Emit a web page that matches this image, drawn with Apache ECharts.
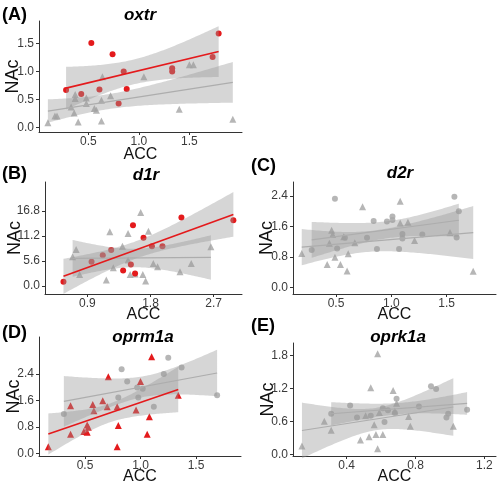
<!DOCTYPE html>
<html><head><meta charset="utf-8">
<script src="https://cdn.jsdelivr.net/npm/echarts@6/dist/echarts.min.js"></script>
<style>html,body{margin:0;padding:0;background:#fff}#c{width:500px;height:487px}</style>
</head><body><div id="c"></div>
<script>
// ---------------- DATA ----------------
// Panel A: oxtr
const A_red_x  = [0.28,0.43,0.53,0.61,0.74,0.80,0.85,0.88,1.33,1.33,1.73,1.79];
const A_red_y  = [0.67,0.60,1.51,0.68,1.31,0.43,1.00,0.69,1.06,1.00,1.26,1.68];
const A_gray_x = [0.10,0.17,0.19,0.33,0.37,0.37,0.36,0.40,0.48,0.48,0.56,0.58,0.63,0.63,0.64,0.72,1.05,1.40,1.50,1.54,1.93];
const A_gray_y = [0.09,0.21,0.21,0.37,0.59,0.52,0.26,0.10,0.53,0.43,0.34,0.31,0.49,0.12,0.91,0.57,0.91,0.33,1.12,1.12,0.15];
// Panel B: d1r
const B_red_x  = [0.56,0.96,1.12,1.24,1.41,1.52,1.55,1.58,1.70,1.82,1.97,2.24,2.98];
const B_red_y  = [0.97,5.43,6.91,8.03,3.49,4.83,13.6,2.83,10.78,8.92,8.92,15.32,14.72];
const B_gray_x = [0.69,0.74,0.79,1.17,1.22,1.27,1.40,1.48,1.48,1.51,1.58,1.66,1.69,1.73,1.77,1.84,1.90,2.22,2.38,2.66];
const B_gray_y = [6.54,8.18,2.60,1.34,12.12,4.09,8.92,11.75,5.80,2.60,2.68,16.43,2.60,1.12,12.27,5.06,4.31,3.20,5.06,8.77];
// Panel C: d2r (both groups grey)
const C_circ_x = [0.28,0.49,0.51,0.58,0.78,0.84,0.87,0.96,1.01,1.01,1.07,1.10,1.10,1.28,1.57,1.59,1.61];
const C_circ_y = [0.98,2.33,1.02,1.30,1.30,1.74,1.01,1.73,1.86,1.77,1.01,1.40,1.28,1.39,2.38,1.31,2.00];
const C_tri_x  = [0.19,0.42,0.44,0.46,0.47,0.49,0.54,0.57,0.60,0.61,0.67,0.74,1.08,1.08,1.15,1.21,1.53,1.74];
const C_tri_y  = [0.89,0.60,1.16,1.50,1.39,0.79,0.60,1.33,0.43,0.88,1.17,2.12,2.26,1.69,1.71,1.23,1.44,0.42];
// Panel D: oprm1a (red triangles, grey circles)
const D_red_x  = [0.17,0.37,0.37,0.49,0.52,0.52,0.53,0.57,0.58,0.66,0.70,0.71,0.79,0.80,0.79,0.96,1.00,1.06,1.08,1.10,1.34];
const D_red_y  = [0.20,1.44,0.58,0.66,0.64,0.86,0.79,1.48,1.29,1.59,1.41,2.32,1.41,0.84,0.20,1.31,2.17,0.58,1.11,2.92,1.76];
const D_gray_x = [0.31,0.80,0.83,0.88,0.97,0.98,1.02,1.12,1.21,1.25,1.37,1.69];
const D_gray_y = [1.19,1.69,2.54,2.17,1.99,1.69,1.95,1.41,2.40,2.89,2.60,1.76];
// Panel E: oprk1a (both groups grey)
const E_tri_x  = [0.14,0.27,0.31,0.48,0.53,0.54,0.56,0.57,0.58,0.58,0.61,0.51,0.59,0.67,0.68,0.69,0.76,0.77,1.02];
const E_tri_y  = [0.15,0.60,0.44,0.26,0.32,1.21,0.54,0.36,1.83,0.10,0.36,0.70,0.76,1.16,0.79,0.93,0.69,0.51,0.51];
const E_circ_x = [0.31,0.42,0.46,0.54,0.61,0.64,0.62,0.69,0.68,0.82,0.89,0.92,0.99,0.98,1.10];
const E_circ_y = [0.74,0.89,0.67,0.70,0.84,0.80,0.59,1.01,0.75,0.87,1.24,1.19,0.74,0.67,0.81];

// Tick labels
const A_xticks = [0.5,1.0,1.5],  A_yticks = [0.0,0.5,1.0,1.5];
const B_xticks = [0.9,1.8,2.7],  B_yticks = [0.0,5.6,11.2,16.8];
const C_xticks = [0.5,1.0,1.5],  C_yticks = [0.0,0.8,1.6,2.4];
const D_xticks = [0.5,1.0,1.5],  D_yticks = [0.0,0.8,1.6,2.4];
const E_xticks = [0.4,0.8,1.2],  E_yticks = [0.0,0.6,1.2,1.8];
const genes = ['oxtr','d1r','d2r','oprm1a','oprk1a'];
const panelLetters = ['(A)','(B)','(C)','(D)','(E)'];

// ---------------- STYLE / LAYOUT ----------------
const RED = '#E41A1C', GREY_PT = '#A9A9A9', GREY_LN = '#ADADAD';
const BAND = 'rgba(153,153,153,0.4)';
const FONT = '"Liberation Sans", Arial, sans-serif';
const layout = [
  {grid:{left:39, top:21, width:203, height:111}, x:[0.012,2.021], y:[-0.077,1.902], title:[140,15], letter:[2,15], yGap:16.5, xGap:15},
  {grid:{left:45, top:182, width:197, height:112}, x:[0.297,3.103], y:[-1.78,23.26], title:[146,175], letter:[2,174], yGap:21, xGap:12.5},
  {grid:{left:293, top:182, width:203, height:112}, x:[0.111,1.946], y:[-0.175,2.767], title:[400,173], letter:[251,166], yGap:17, xGap:12.5},
  {grid:{left:39, top:337, width:202, height:119}, x:[0.086,1.905], y:[-0.081,3.519], title:[143,337], letter:[2,333], yGap:16, xGap:12.5},
  {grid:{left:293, top:343, width:203, height:113}, x:[0.088,1.268], y:[-0.031,2.027], title:[398,337], letter:[251,326], yGap:16, xGap:12.5}
];
const ticks = [[A_xticks,A_yticks],[B_xticks,B_yticks],[C_xticks,C_yticks],[D_xticks,D_yticks],[E_xticks,E_yticks]];

// groups: [panel, xs, ys, symbol, pointColor, lineColor]
const groups = [
  [0, A_gray_x, A_gray_y, 'triangle', GREY_PT, GREY_LN],
  [0, A_red_x,  A_red_y,  'circle',   RED,     RED],
  [1, B_gray_x, B_gray_y, 'triangle', GREY_PT, GREY_LN],
  [1, B_red_x,  B_red_y,  'circle',   RED,     RED],
  [2, C_tri_x,  C_tri_y,  'triangle', GREY_PT, GREY_LN],
  [2, C_circ_x, C_circ_y, 'circle',   GREY_PT, GREY_LN],
  [3, D_gray_x, D_gray_y, 'circle',   GREY_PT, GREY_LN],
  [3, D_red_x,  D_red_y,  'triangle', RED,     RED],
  [4, E_tri_x,  E_tri_y,  'triangle', GREY_PT, GREY_LN],
  [4, E_circ_x, E_circ_y, 'circle',   GREY_PT, GREY_LN]
];

// ---------------- linear model with 95% CI (like geom_smooth(method='lm')) ----------------
const T975 = {8:2.306,9:2.262,10:2.228,11:2.201,12:2.179,13:2.160,14:2.145,15:2.131,16:2.120,17:2.110,18:2.101,19:2.093,20:2.086,21:2.080,22:2.074,23:2.069,24:2.064,25:2.060};
function lmFit(xs, ys){
  const n = xs.length;
  const mx = xs.reduce((a,b)=>a+b,0)/n, my = ys.reduce((a,b)=>a+b,0)/n;
  let sxx=0, sxy=0;
  for (let i=0;i<n;i++){ sxx += (xs[i]-mx)**2; sxy += (xs[i]-mx)*(ys[i]-my); }
  const b = sxy/sxx, a = my - b*mx;
  let sse=0; for (let i=0;i<n;i++){ sse += (ys[i]-a-b*xs[i])**2; }
  const s = Math.sqrt(sse/(n-2)), t = T975[n-2] || 2.0;
  const x0 = Math.min(...xs), x1 = Math.max(...xs);
  const upper=[], lower=[];
  for (let k=0;k<=80;k++){
    const x = x0 + (x1-x0)*k/80, f = a+b*x;
    const se = s*Math.sqrt(1/n + (x-mx)**2/sxx);
    upper.push([x, f+t*se]); lower.push([x, f-t*se]);
  }
  return {line:[[x0,a+b*x0],[x1,a+b*x1]], upper, lower};
}

// ---------------- build option ----------------
const grids=[], xAxes=[], yAxes=[], series=[], graphics=[];
layout.forEach((L,i)=>{
  grids.push(Object.assign({containLabel:false}, L.grid));
  const common = {
    type:'value', gridIndex:i, splitLine:{show:false},
    axisLine:{show:true, onZero:false, lineStyle:{color:'#333', width:1}},
    nameLocation:'middle', nameMoveOverlap:false
  };
  xAxes.push(Object.assign({}, common, {
    min:L.x[0], max:L.x[1], name:'ACC', nameGap:L.xGap,
    nameTextStyle:{fontFamily:FONT, color:'#111', fontSize:16},
    axisTick:{show:true, length:3, customValues:ticks[i][0], lineStyle:{color:'#333'}},
    axisLabel:{customValues:ticks[i][0], formatter:v=>v.toFixed(1), margin:4, fontSize:12, color:'#3a3a3a', fontFamily:FONT}
  }));
  yAxes.push(Object.assign({}, common, {
    min:L.y[0], max:L.y[1], name:'NAc', nameGap:L.yGap,
    nameTextStyle:{fontFamily:FONT, color:'#111', fontSize:18},
    axisTick:{show:true, length:3, customValues:ticks[i][1], lineStyle:{color:'#333'}},
    axisLabel:{customValues:ticks[i][1], formatter:v=>v.toFixed(1), margin:5, fontSize:12, color:'#3a3a3a', fontFamily:FONT}
  }));
  graphics.push({type:'text', x:L.title[0], y:L.title[1], style:{text:genes[i], font:'italic bold 17px '+FONT, fill:'#000', align:'center', verticalAlign:'middle'}});
  graphics.push({type:'text', x:L.letter[0], y:L.letter[1], style:{text:panelLetters[i], font:'bold 18px '+FONT, fill:'#000', align:'left', verticalAlign:'middle'}});
});

groups.forEach(g=>{
  const [p, xs, ys, sym, pc, lc] = g;
  series.push({type:'scatter', xAxisIndex:p, yAxisIndex:p, z:2, silent:true,
    symbol:sym, symbolSize: sym==='triangle'?7:6,
    itemStyle:{color:pc, opacity: pc===RED?1:0.85},
    data: xs.map((x,k)=>[x, ys[k]])});
});
groups.forEach(g=>{
  const [p, xs, ys, sym, pc, lc] = g;
  const fit = lmFit(xs, ys);
  series.push({type:'custom', xAxisIndex:p, yAxisIndex:p, z:3, silent:true,
    data:[[fit.line[0][0], fit.line[0][1]]],
    renderItem:(params, api)=>{
      const pts = fit.upper.map(q=>api.coord(q)).concat(fit.lower.slice().reverse().map(q=>api.coord(q)));
      return {type:'polygon', shape:{points:pts}, style:{fill:BAND}};
    }});
  series.push({type:'line', xAxisIndex:p, yAxisIndex:p, z:4, silent:true, symbol:'none',
    lineStyle:{color:lc, width: lc===RED?1.6:1.2}, data:fit.line});
});

const chart = echarts.init(document.getElementById('c'), null, {renderer:'canvas'});
chart.setOption({
  backgroundColor:'#fff', animation:false,
  textStyle:{fontFamily:FONT},
  grid:grids, xAxis:xAxes, yAxis:yAxes, series, graphic:graphics
});
</script></body></html>
